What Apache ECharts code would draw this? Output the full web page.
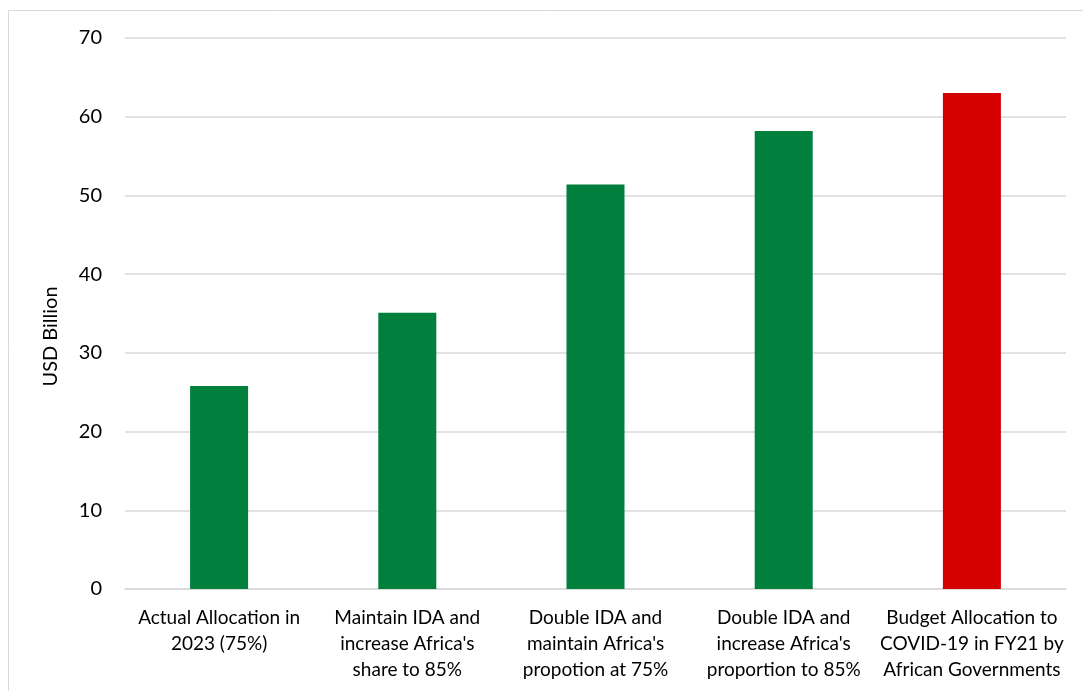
<!DOCTYPE html>
<html>
<head>
<meta charset="utf-8">
<script src="https://cdn.jsdelivr.net/npm/echarts@6/dist/echarts.min.js"></script>
<style>
  html, body { margin: 0; padding: 0; background: #fff; }
  #main { width: 1083px; height: 691px; }
</style>
</head>
<body>
<div id="main"></div>
<script>
var categories = [
    'Actual Allocation in\n2023 (75%)',
    'Maintain IDA and\nincrease Africa\'s\nshare to 85%',
    'Double IDA and\nmaintain Africa\'s\npropotion at 75%',
    'Double IDA and\nincrease Africa\'s\nproportion to 85%',
    'Budget Allocation to\nCOVID-19 in FY21 by\nAfrican Governments'
];
var values = [25.8, 35.1, 51.4, 58.2, 63.0];
var barColors = ['#007F3D', '#007F3D', '#007F3D', '#007F3D', '#D50000'];

var dom = document.getElementById('main');
var myChart = echarts.init(dom);
var fontFam = 'Lato, "Liberation Sans", sans-serif';

var option = {
    backgroundColor: '#fff',
    animation: false,
    textStyle: { fontFamily: fontFam },
    graphic: [{
        type: 'rect',
        shape: { x: 8.5, y: 10.5, width: 1090, height: 700 },
        style: { fill: null, stroke: '#d9d9d9', lineWidth: 1 },
        silent: true
    }],
    grid: { left: 125, right: 17, top: 38, bottom: 102 },
    xAxis: {
        type: 'category',
        data: categories,
        axisTick: { show: false },
        axisLine: { lineStyle: { color: '#d9d9d9', width: 1.5 } },
        axisLabel: {
            color: '#000',
            fontSize: 19,
            lineHeight: 26,
            margin: 16,
            interval: 0,
            fontFamily: fontFam
        }
    },
    yAxis: {
        type: 'value',
        min: 0,
        max: 70,
        interval: 10,
        name: 'USD Billion',
        nameLocation: 'middle',
        nameGap: 64,
        nameTextStyle: { color: '#000', fontSize: 20, fontFamily: fontFam, padding: [0, 46, 0, 0] },
        axisLine: { show: false },
        axisTick: { show: false },
        axisLabel: { color: '#000', fontSize: 20, margin: 23, fontFamily: fontFam },
        splitLine: { lineStyle: { color: '#d9d9d9', width: 1.5 } }
    },
    series: [{
        type: 'bar',
        barWidth: 58,
        data: values.map(function (v, i) {
            return { value: v, itemStyle: { color: barColors[i] } };
        })
    }]
};

myChart.setOption(option);
</script>
</body>
</html>
